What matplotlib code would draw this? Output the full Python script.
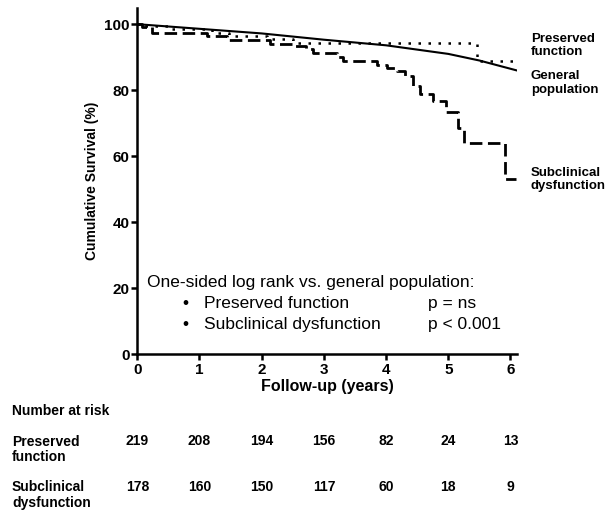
import matplotlib
matplotlib.use("Agg")
import matplotlib.pyplot as plt
from matplotlib.transforms import blended_transform_factory

plt.rcParams['font.family'] = ['Liberation Sans', 'DejaVu Sans']

# general population (expected survival)
gen_t = [0, 1, 2, 3, 4, 5, 5.5, 6.1]
gen_s = [100, 98.6, 97.2, 95.3, 93.6, 91.0, 89.0, 86.0]

# preserved function (KM steps)
pres_t = [0, 0.1, 0.5, 1.2, 1.47, 2.08, 2.51, 5.46, 6.1]
pres_s = [100, 99.5, 98.6, 97.2, 96.3, 95.4, 94.3, 88.8, 88.8]

# subclinical dysfunction (KM steps)
sub_t = [0, 0.07, 0.23, 1.12, 1.44, 2.13, 2.54, 2.72, 2.83, 3.21, 3.31, 3.85,
         4.01, 4.17, 4.30, 4.44, 4.55, 4.76, 4.97, 5.16, 5.25, 5.91, 6.09]
sub_s = [100, 99.1, 97.3, 96.5, 95.1, 94.0, 93.4, 92.4, 91.4, 90.2, 88.9, 87.6,
         86.7, 85.8, 84.3, 81.3, 78.9, 76.8, 73.3, 68.6, 64.0, 53.0, 53.0]

risk_years = [0, 1, 2, 3, 4, 5, 6]
risk_preserved = [219, 208, 194, 156, 82, 24, 13]
risk_subclinical = [178, 160, 150, 117, 60, 18, 9]

fig = plt.figure(figsize=(6.07, 5.12), dpi=100)
ax = fig.add_axes([0.2262, 0.308, 0.625, 0.677])

ax.plot(gen_t, gen_s, color='black', lw=1.5)
ax.plot(pres_t, pres_s, color='black', lw=1.8, drawstyle='steps-post',
        dashes=(1, 3))
ax.plot(sub_t, sub_s, color='black', lw=2, drawstyle='steps-post',
        dashes=(4.5, 2))

ax.set_xlim(0, 6.1)
ax.set_ylim(0, 105)
ax.set_xticks(range(0, 7))
ax.set_yticks(range(0, 101, 20))
for s in ['top', 'right']:
    ax.spines[s].set_visible(False)
for s in ['left', 'bottom']:
    ax.spines[s].set_linewidth(1.8)
ax.tick_params(width=1.8, length=4, labelsize=11)
ax.tick_params(axis='x', pad=2.5)
ax.tick_params(axis='y', pad=1.5)
for lab in ax.get_xticklabels() + ax.get_yticklabels():
    lab.set_fontweight('bold')

ax.set_xlabel('Follow-up (years)', fontsize=11.5, fontweight='bold', labelpad=1.5)
ax.set_ylabel('Cumulative Survival (%)', fontsize=10, fontweight='bold', labelpad=4)

# curve labels
lab_kw = dict(fontsize=9.5, fontweight='bold', ha='left', va='center',
              clip_on=False, linespacing=1.15)
ax.text(6.33, 93.6, 'Preserved\nfunction', **lab_kw)
ax.text(6.33, 82.2, 'General\npopulation', **lab_kw)
ax.text(6.33, 53.0, 'Subclinical\ndysfunction', **lab_kw)

# log rank annotation
ax.text(0.16, 21.6, 'One-sided log rank vs. general population:',
        fontsize=12.5, va='center')
for y, name, p in [(15.3, 'Preserved function', 'p = ns'),
                   (8.9, 'Subclinical dysfunction', 'p < 0.001')]:
    ax.text(0.77, y, '\u2022', fontsize=12.5, va='center', ha='center')
    ax.text(1.07, y, name, fontsize=12.5, va='center')
    ax.text(4.67, y, p, fontsize=12.5, va='center')

# number at risk table
tr = blended_transform_factory(ax.transData, fig.transFigure)
tab_kw = dict(fontsize=10, fontweight='bold')
fig.text(12 / 607, 1 - 411 / 512, 'Number at risk', va='center', **tab_kw)
fig.text(12 / 607, 1 - 449.5 / 512, 'Preserved\nfunction', va='center',
         linespacing=1.15, **tab_kw)
fig.text(12 / 607, 1 - 495 / 512, 'Subclinical\ndysfunction', va='center',
         linespacing=1.15, **tab_kw)
for x, a, b in zip(risk_years, risk_preserved, risk_subclinical):
    ax.text(x, 1 - 441 / 512, str(a), transform=tr, ha='center', va='center', **tab_kw)
    ax.text(x, 1 - 487 / 512, str(b), transform=tr, ha='center', va='center', **tab_kw)

fig.savefig('out.png', dpi=100)
